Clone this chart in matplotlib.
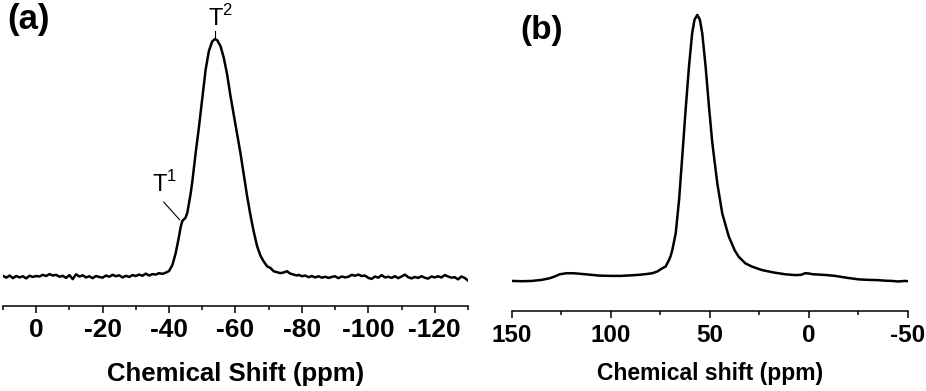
import numpy as np
import matplotlib.pyplot as plt

plt.rcParams['font.family'] = ['Liberation Sans', 'DejaVu Sans']
plt.rcParams['mathtext.fontset'] = 'custom'
plt.rcParams['mathtext.rm'] = 'Liberation Sans'
plt.rcParams['axes.unicode_minus'] = False

# (a) espectro con ruido
shift_a = [10, 9, 8, 7, 6, 5, 4, 3, 2, 1, 0, -1, -2, -3, -4, -5, -6, -7, -8, -9,
           -10, -11, -12, -13, -14, -15, -16, -17, -18, -19, -20, -21, -22, -23, -24,
           -25, -26, -27, -28, -29, -30, -31, -32, -33, -34, -35, -36, -37, -38, -39,
           -40, -41, -42, -43, -43.5, -44, -45, -45.5, -46, -46.5, -47, -48, -49, -50,
           -51, -52, -53, -53.8, -54.5, -55.5, -56.5, -57.5, -58.5, -59.5, -60.5,
           -61.5, -62.5, -63.5, -64.5, -65.5, -66.5, -67.5, -68.5, -69.5, -70.5,
           -71.5, -72.5, -73.5, -74.5, -75.5, -76.5, -77.5, -78.5,
           -79, -80, -81, -82, -83, -84, -85, -86, -87, -88, -89, -90, -91, -92,
           -93, -94, -95, -96, -97, -98, -99, -100, -101, -102, -103, -104, -105,
           -106, -107, -108, -109, -110, -111, -112, -113, -114, -115, -116, -117,
           -118, -119, -120, -121, -122, -123, -124, -125, -126, -127, -128, -129, -130]
int_a = [0.5, -0.3, 0.6, -0.5, 0.4, -0.2, 0.3, -0.6, 0.5, 0.0, 0.4, 0.2, 0.9, 0.4, 1.2,
         0.6, 0.9, 0.1, 0.5, -0.4, 0.8, -0.9, 1.1, 0.2, 0.7, -0.2, 0.3, -0.5, 0.4, 0.0,
         -0.3, 0.6, 0.1, 0.9, 0.3, 0.7, -0.2, 0.5, 0.0, 0.8, 0.4, 1.0, 0.5, 1.4, 0.6,
         1.2, 1.0, 1.6, 1.3, 1.8,
         2.5, 5, 10, 17, 21, 23.5, 25, 27, 31, 35, 40, 52, 63, 75,
         87, 95, 99, 100, 99.5, 97, 92, 85, 76, 68, 60,
         52, 43, 34, 26, 19, 13, 9, 6.5, 4.5, 3.8,
         2.4, 2.0, 1.6, 1.9, 2.4, 1.4, 1.0, 0.6,
         0.9, 0.3, 0.6, -0.1, 0.4, -0.2, 0.3, -0.3, 0.1, -0.4, 0.0, 0.3, -0.5, 0.2,
         -0.2, 0.1, 0.9, 0.5, 1.0, 0.4, 0.6, -0.4, -0.8, 0.2, -0.3, 0.8, -0.2,
         0.1, -0.4, 0.3, -0.5, 0.2, 1.0, -0.1, -0.6, 0.0, -0.4, 0.3, -0.3,
         -0.7, 0.2, -0.2, 0.3, -0.2, 0.8, 0.2, -0.3, -0.1, -1.0, 0.2, -0.4, -1.5]

# (b) espectro suave
shift_b = [150, 145, 140, 135, 131, 128, 125.9, 122.5, 119, 115.8, 110, 105.8, 100, 95,
           90, 85.8, 82, 79.1, 76.5, 74, 72.4, 70.6, 69.8, 69.0, 67.3, 65.6, 64.0,
           62.3, 60.6, 59.0, 57.8, 56.4, 55.1, 53.9, 52.2, 50.5, 48.8, 46.3, 43.8,
           40.5, 37.5, 35.5, 32.1, 28.8, 23.8, 18, 12, 7, 4, 1.9, 0, -2, -4.8, -9,
           -13.2, -19, -25, -30, -35, -38.4, -42, -45, -48.4, -50]
int_b = [0.0, -0.1, 0.0, 0.4, 1.0, 1.8, 2.5, 2.9, 2.9, 2.7, 2.3, 2.0, 1.9, 1.9,
         2.1, 2.3, 2.6, 2.9, 3.6, 4.8, 5.4, 8.0, 9.5, 11.7, 17.9, 30.5, 46.7,
         64.3, 80.6, 93.1, 98.2, 100, 98.2, 93.1, 80.6, 65.5, 51.8, 36.7, 25.4,
         16.7, 11.5, 9.1, 6.6, 5.4, 4.1, 3.2, 2.5, 2.2, 2.3, 2.9, 2.8, 2.5, 2.4, 2.2,
         1.9, 1.2, 0.6, 0.4, 0.3, 0.1, 0.0, -0.2, 0.0, -0.1]

fig = plt.figure(figsize=(9.26, 3.91), dpi=100)
ax1 = fig.add_axes([0.0032, 0.2174, 0.5022, 0.7826])
ax2 = fig.add_axes([0.5529, 0.2046, 0.4276, 0.7954])

ax1.plot(shift_a, int_a, color='black', lw=1.8)
ax1.set_xlim(10, -130)
ax1.set_ylim(-12.2, 116.4)
ax1.set_xticks(np.arange(0, -121, -20))
ax1.set_xticks(np.arange(10, -131, -10), minor=True)
ax1.set_xlabel('Chemical Shift (ppm)', fontsize=18.5, fontweight='bold', labelpad=14)

ax2.plot(shift_b, int_b, color='black', lw=1.8)
ax2.set_xlim(150, -50)
ax2.set_ylim(-11.3, 105.6)
ax2.set_xticks([150, 100, 50, 0, -50])
ax2.set_xticks(np.arange(150, -51, -25), minor=True)
ax2.set_xlabel('Chemical shift (ppm)', fontsize=16.5, fontweight='bold', labelpad=11)

for ax, fs in [(ax1, 19), (ax2, 17.5)]:
    for s in ['top', 'left', 'right']:
        ax.spines[s].set_visible(False)
    ax.spines['bottom'].set_linewidth(1.1)
    ax.set_yticks([])
    ax.tick_params(axis='x', which='major', length=5, width=1.1, pad=4, labelsize=fs)
    ax.tick_params(axis='x', which='minor', length=3, width=1.1)
    for t in ax.get_xticklabels():
        t.set_fontweight('bold')
    ax.patch.set_visible(False)

# etiquetas T1 y T2
ax1.text(-55.6, 103.4, r'T$^\mathregular{2}$', fontsize=17, ha='center', va='bottom')
ax1.plot([-53.8, -53.8], [100.8, 103.4], color='black', lw=0.8)
ax1.text(-35.0, 35.7, r'T$^\mathregular{1}$', fontsize=17, ha='left', va='baseline')
ax1.plot([-38.4, -43.2], [31.5, 24.0], color='black', lw=0.8)

fig.text(7 / 926, 1 - 20 / 391, '(a)', fontsize=25, fontweight='bold', va='center', ha='left')
fig.text(520 / 926, 1 - 31 / 391, '(b)', fontsize=24, fontweight='bold', va='center', ha='left')

fig.savefig('out.png', dpi=100)
